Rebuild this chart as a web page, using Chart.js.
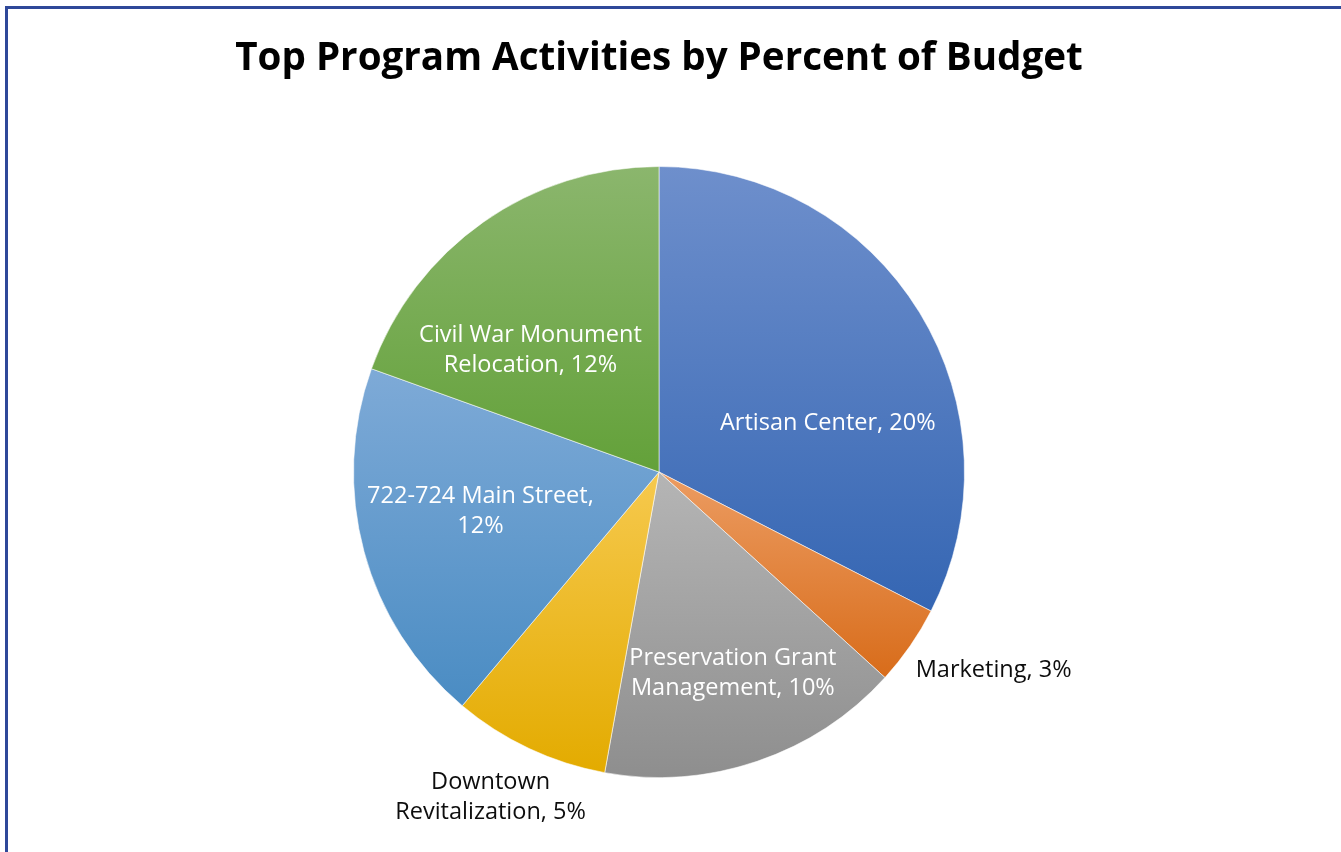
<!DOCTYPE html>
<html>
<head>
<meta charset="utf-8">
<script src="https://cdn.jsdelivr.net/npm/chart.js@4"></script>
<style>
html,body{margin:0;padding:0;background:#fff;}
#wrap{position:relative;width:1341px;height:852px;overflow:hidden;}
#frame{position:absolute;left:5px;top:6px;width:2000px;height:2000px;border-top:3px solid #2f4899;border-left:3px solid #2f4899;pointer-events:none;}
</style>
</head>
<body>
<div id="wrap"><canvas id="pie"></canvas><div id="frame"></div></div>
<script>
const actividades = ["Artisan Center", "Marketing", "Preservation Grant Management", "Downtown Revitalization", "722-724 Main Street", "Civil War Monument Relocation"];
const porcentajes = [20, 2.6, 9.9, 5.1, 11.9, 12];

// colores de cada rebanada (arriba claro, abajo oscuro)
const claros = ['#6e8fcc', '#ec9c62', '#b5b5b5', '#f6c94e', '#7eaad7', '#8bb66d'];
const oscuros = ['#3566b3', '#d86c1a', '#8e8e8e', '#e3ab00', '#4a8cc3', '#63a139'];
const medios = ['#4472c4', '#ed7d31', '#a5a5a5', '#ffc000', '#5b9bd5', '#70ad47'];

// donde va cada rotulo: angulo desde arriba (grados) y fraccion del radio
const posAngulo = [73.2, 120.4, 159.7, 207.5, 258.3, 313.9];
const posRadio = [0.577, 1.27, 0.697, 1.194, 0.597, 0.584];

function envolver(ctx, texto, ancho){
    let palabras = texto.split(' ');
    let lineas = [];
    let actual = '';
    palabras.forEach(p => {
        let prueba = actual ? actual + ' ' + p : p;
        if (ctx.measureText(prueba).width > ancho && actual) {
            lineas.push(actual);
            actual = p;
        } else {
            actual = prueba;
        }
    });
    lineas.push(actual);
    return lineas;
}

const degradado = {
    id: 'degradado',
    beforeDatasetsDraw(chart) {
        const ctx = chart.ctx;
        chart.getDatasetMeta(0).data.forEach((arco, i) => {
            const {x, y, startAngle, endAngle, outerRadius} = arco.getProps(['x', 'y', 'startAngle', 'endAngle', 'outerRadius']);
            let ys = [y, y + outerRadius * Math.sin(startAngle), y + outerRadius * Math.sin(endAngle)];
            let arriba = Math.min(...ys), abajo = Math.max(...ys);
            const dentro = a => (a >= startAngle && a <= endAngle);
            if (dentro(Math.PI / 2)) abajo = y + outerRadius;
            if (dentro(-Math.PI / 2) || dentro(3 * Math.PI / 2)) arriba = y - outerRadius;
            const g = ctx.createLinearGradient(0, arriba, 0, abajo);
            g.addColorStop(0, claros[i]);
            g.addColorStop(1, oscuros[i]);
            arco.options.backgroundColor = g;
        });
    }
};

const rotulos = {
    id: 'rotulos',
    afterDatasetsDraw(chart) {
        const ctx = chart.ctx;
        const arcos = chart.getDatasetMeta(0).data;
        ctx.save();
        ctx.font = '23.5px "Open Sans"';
        ctx.textAlign = 'center';
        ctx.textBaseline = 'middle';
        arcos.forEach((arco, i) => {
            const a = posAngulo[i] * Math.PI / 180;
            const r = arco.outerRadius * posRadio[i];
            const x = arco.x + r * Math.sin(a);
            const y = arco.y - r * Math.cos(a) + 2;
            const lineas = envolver(ctx, actividades[i] + ', ' + Math.round(porcentajes[i]) + '%', 250);
            ctx.fillStyle = posRadio[i] > 1 ? '#0d0d0d' : '#ffffff';
            lineas.forEach((l, k) => ctx.fillText(l, x, y + (k - (lineas.length - 1) / 2) * 30));
        });
        ctx.restore();
    }
};

let miCanvas = document.getElementById('pie').getContext('2d');

let presupuestoChart = new Chart(miCanvas, {
    type: 'pie',
    data: {
        labels: actividades,
        datasets: [{
            data: porcentajes,
            backgroundColor: medios,
            borderColor: 'rgba(255,255,255,0.55)',
            borderWidth: 1
        }]
    },
    options: {
        responsive: true,
        maintainAspectRatio: false,
        animation: false,
        events: [],
        layout: {padding: {top: 0, left: 0, right: 23, bottom: 74}},
        plugins: {
            legend: {display: false},
            tooltip: {enabled: false},
            title: {
                display: true,
                text: 'Top Program Activities by Percent of Budget',
                color: '#000',
                font: {family: 'Open Sans', weight: 'bold', size: 38.6, lineHeight: 1.2},
                padding: {top: 36, bottom: 83.7}
            }
        }
    },
    plugins: [degradado, rotulos]
});
</script>
</body>
</html>
